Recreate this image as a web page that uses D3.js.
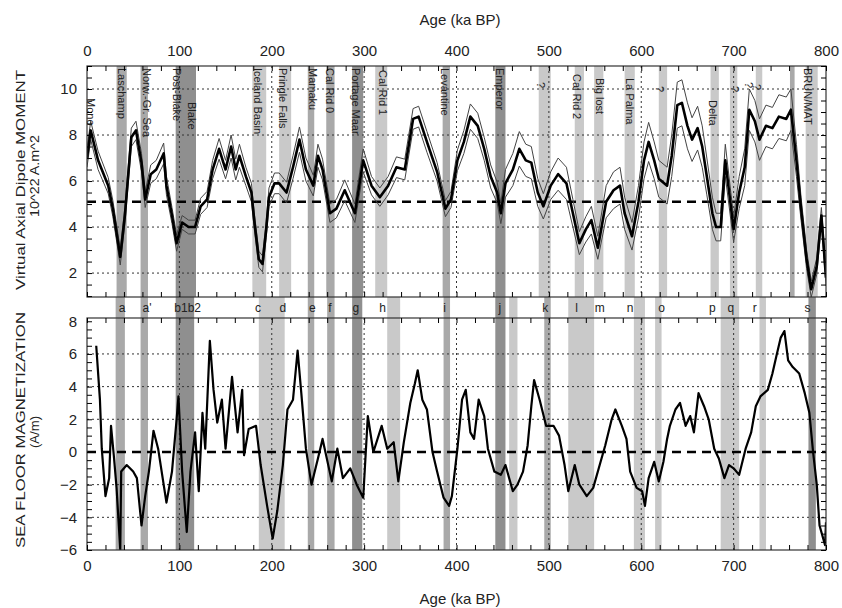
<!DOCTYPE html>
<html>
<head>
<meta charset="utf-8">
<title>VADM and sea floor magnetization</title>
<style>
  body { margin: 0; background: #fff; }
  svg text { font-family: "Liberation Sans Narrow", "Liberation Sans", Arial, sans-serif; fill: #222; }
</style>
</head>
<body>
<svg id="chart" width="842" height="608"></svg>
<script src="https://cdn.jsdelivr.net/npm/d3@7"></script>
<script>
// VADM stack (ka, 10^22 A.m^2) and its half-width
const vadmAge = [0,4,12,23,28,36,41,48,53,59,63,69,75,83,86,92,97,103,110,117,123,130,136,143,150,156,161,165,172,178,181,186,190,194,197,203,208,216,223,230,237,245,250,255,263,270,279,290,299,308,317,326,335,344,353,359,368,379,388,394,401,408,415,423,430,437,444,448,453,461,468,475,481,488,494,502,510,519,526,533,540,546,553,562,570,577,582,590,597,603,608,614,619,628,633,639,644,650,655,661,666,671,677,681,686,691,697,700,706,712,717,723,728,735,742,749,757,762,768,773,779,784,790,795,800];
const vadmVal = [7.0,8.2,6.9,5.8,4.8,2.7,4.5,7.9,8.2,6.8,5.2,6.3,6.5,7.2,5.8,4.5,3.3,4.2,4.0,4.0,4.9,5.2,6.5,7.4,6.5,7.5,6.5,7.1,6.2,5.5,4.3,2.6,2.4,3.9,5.3,5.9,5.9,5.5,6.6,7.8,6.5,5.8,7.1,6.5,4.6,4.8,5.6,4.6,6.9,5.8,5.3,5.8,6.6,6.5,8.7,8.8,7.7,6.4,4.8,5.2,6.9,7.7,8.8,8.4,7.4,6.2,5.5,4.6,5.9,6.5,7.4,6.9,6.8,5.5,4.9,5.8,6.3,5.9,4.6,3.3,3.9,4.3,3.1,5.1,5.6,5.8,4.6,3.6,5.1,6.9,7.7,6.9,6.1,5.8,7.1,9.3,9.4,8.4,7.8,8.3,7.5,6.2,4.6,4.0,4.0,6.9,4.9,3.9,5.5,6.6,9.1,8.6,7.8,8.4,8.3,8.8,8.7,9.1,6.9,4.8,2.6,1.3,2.3,4.5,1.8];
const vadmErr = [0.4,0.4,0.4,0.35,0.35,0.35,0.35,0.4,0.4,0.4,0.35,0.4,0.4,0.45,0.4,0.35,0.35,0.3,0.3,0.3,0.35,0.35,0.4,0.45,0.4,0.5,0.45,0.5,0.4,0.4,0.35,0.35,0.35,0.35,0.4,0.45,0.45,0.45,0.5,0.55,0.5,0.45,0.5,0.45,0.4,0.4,0.45,0.4,0.5,0.4,0.4,0.4,0.45,0.45,0.45,0.45,0.45,0.4,0.35,0.35,0.45,0.5,0.55,0.55,0.5,0.5,0.45,0.45,0.6,0.7,0.75,0.7,0.7,0.6,0.55,0.6,0.7,0.7,0.6,0.5,0.55,0.6,0.5,0.7,0.8,0.8,0.7,0.6,0.7,0.8,0.85,0.8,0.8,0.8,0.9,1.0,1.0,1.0,0.95,0.95,0.9,0.8,0.7,0.6,0.6,0.7,0.6,0.55,0.7,0.8,0.9,0.9,0.9,0.9,0.9,0.95,0.95,0.9,0.7,0.5,0.4,0.35,0.35,0.35,0.35];
const vadmRef = 5.1;

// sea floor magnetization (A/m)
const sfmAge = [10,14,16,20,24,26,29,32,36,37,43,50,54,59,63,67,72,77,86,92,97,99,103,108,112,117,121,125,128,133,137,141,146,150,157,163,168,170,175,183,188,195,201,206,212,217,223,228,232,237,243,250,255,265,271,277,285,292,299,304,310,319,325,332,337,343,350,355,358,363,368,374,379,386,392,395,401,406,410,415,419,424,430,434,441,448,453,461,466,472,477,481,484,490,497,505,511,517,521,528,533,541,548,555,561,568,572,579,584,588,595,601,604,608,614,619,624,628,631,637,642,648,653,657,662,668,673,679,684,690,695,700,706,713,719,724,729,737,742,746,751,755,759,764,771,777,782,786,790,793,799,800];
const sfmVal = [6.5,3.2,0.2,-2.7,-1.6,1.6,-0.2,-2.2,-6.0,-1.2,-0.8,-1.2,-1.6,-4.5,-2.7,-1.2,1.3,0.2,-3.1,-1.2,2.0,3.4,-1.2,-4.9,-1.2,1.2,-2.4,2.4,0.2,6.8,3.8,1.8,3.2,0.2,4.6,1.2,3.8,-0.2,1.4,1.6,-0.8,-3.3,-5.3,-3.6,-0.8,2.6,3.2,6.2,3.6,0.2,-2.0,-0.4,0.8,-1.8,0.2,-1.6,-1.0,-2.0,-2.8,2.2,0.0,1.6,0.2,0.6,-1.8,0.6,3.0,4.2,5.0,3.2,2.6,0.0,-1.2,-2.8,-3.3,-2.7,0.2,3.2,3.8,1.2,0.8,3.2,2.2,0.2,-1.2,-1.4,-0.8,-2.4,-2.0,-1.2,0.4,2.8,4.4,3.2,1.6,1.6,1.0,-0.8,-2.4,-0.8,-2.0,-2.7,-2.2,-0.8,0.4,2.0,2.6,1.6,0.8,-1.2,-2.2,-2.4,-3.3,-1.6,-0.6,-1.8,-0.6,0.8,1.6,2.6,3.0,1.6,2.2,1.2,3.6,2.8,2.0,0.2,-0.4,-1.6,-0.8,-1.0,-1.4,0.2,1.2,2.8,3.4,3.8,4.8,5.8,7.0,7.4,5.6,5.2,4.8,3.6,2.4,0.0,-2.0,-4.5,-5.7,-4.3];

// excursion windows [from, to, shade]
const topBands = [[32,43,"mid"],[58,66,"mid"],[96,118,"dark"],[179,194,"light"],[208,221,"light"],[239,246,"mid"],[259,268,"mid"],[287,299,"dark"],[312,325,"light"],[385,393,"mid"],[442,453,"dark"],[489,502,"light"],[528,538,"light"],[549,559,"light"],[582,593,"light"],[619,628,"light"],[675,684,"light"],[696,704,"light"],[724,731,"light"],[761,766,"mid"],[778,791,"light"]];
const botBands = [[31,41,"mid"],[58,66,"mid"],[96,116,"dark"],[186,214,"light"],[239,246,"mid"],[260,268,"mid"],[287,298,"dark"],[325,339,"light"],[386,393,"mid"],[442,453,"dark"],[457,466,"light"],[495,502,"mid"],[521,549,"light"],[592,604,"light"],[615,622,"light"],[686,706,"light"],[728,735,"light"],[781,789,"dark"]];

const excName = ["Mono","Laschamp","Norw.-Gr. Sea","Post-Blake","Blake","Iceland Basin","Pringle Falls","Mamaku","Cal Rid 0","Portage Maar","Cal Rid 1","Levantine","Emperor","?","Cal Rid 2","Big lost","La Palma","?","Delta","?","?","?","BRUN/MAT"];
const excAge  = [4,38,65,97,114,185,212,244,263,291,320,387,447,491,530,555,588,620,677,701,716,725,780];
const excTop  = [98,68,68,68,102,68,68,68,68,68,70,68,68,82,74,78,78,86,100,86,82,84,68];

const letters   = ["a","a'","b1b2","c","d","e","f","g","h","i","j","k","l","m","n","o","p","q","r","s"];
const letterAge = [38,65,109,185,212,244,263,291,320,387,447,496,530,555,588,622,677,697,723,780];

const ageTicks = d3.range(0, 801, 100);
const topTicks = [2,4,6,8,10];
const botTicks = [-6,-4,-2,0,2,4,6,8];

const svg = d3.select("#chart");
const x = d3.scaleLinear().domain([0, 800]).range([87, 826]);
const yT = d3.scaleLinear().domain([0.96, 11.0]).range([297, 66]);
const yB = d3.scaleLinear().domain([-6, 8.2]).range([550, 318]);
const shade = {dark: "#8f8f8f", mid: "#a9a9a9", light: "#c9c9c9"};

svg.append("defs").selectAll("clipPath")
  .data([["clipT", yT], ["clipB", yB]]).enter().append("clipPath")
  .attr("id", d => d[0])
  .append("rect")
  .attr("x", 87).attr("width", 739)
  .attr("y", d => d[1].range()[1]).attr("height", d => d[1].range()[0] - d[1].range()[1]);

// bands
svg.append("g").selectAll("rect").data(topBands).enter().append("rect")
  .attr("x", d => x(d[0])).attr("width", d => x(d[1]) - x(d[0]))
  .attr("y", 66).attr("height", 231)
  .attr("fill", d => shade[d[2]]);
svg.append("g").selectAll("rect").data(botBands).enter().append("rect")
  .attr("x", d => x(d[0])).attr("width", d => x(d[1]) - x(d[0]))
  .attr("y", 297).attr("height", 253)
  .attr("fill", d => shade[d[2]]);

// grids
function grid(y, vals, top, bottom) {
  const g = svg.append("g").attr("stroke", "#333").attr("stroke-width", 1).attr("stroke-dasharray", "2,3");
  g.selectAll("line.h").data(vals).enter().append("line")
    .attr("x1", 87).attr("x2", 826).attr("y1", d => y(d)).attr("y2", d => y(d));
  g.selectAll("line.v").data(ageTicks.slice(1, -1)).enter().append("line")
    .attr("y1", top).attr("y2", bottom).attr("x1", d => x(d)).attr("x2", d => x(d));
}
grid(yT, topTicks, 66, 297);
grid(yB, [-4,-2,2,4,6], 318, 550);

// reference lines
svg.append("line").attr("x1", 87).attr("x2", 826).attr("y1", yT(vadmRef)).attr("y2", yT(vadmRef))
  .attr("stroke", "#000").attr("stroke-width", 2.5).attr("stroke-dasharray", "9,6");
svg.append("line").attr("x1", 87).attr("x2", 826).attr("y1", yB(0)).attr("y2", yB(0))
  .attr("stroke", "#000").attr("stroke-width", 2.5).attr("stroke-dasharray", "9,6");

// excursion names
svg.append("g").selectAll("text").data(excName).enter().append("text")
  .attr("transform", (d, i) => `translate(${x(excAge[i])},${excTop[i]}) rotate(90)`)
  .attr("dy", "0.35em").attr("font-size", 11).text(d => d);

// letters between panels
svg.append("g").selectAll("text").data(letters).enter().append("text")
  .attr("x", (d, i) => x(letterAge[i])).attr("y", 312)
  .attr("text-anchor", "middle").attr("font-size", 12).text(d => d);

// VADM curves
const lineT = d3.line().x(d => x(d[0])).y(d => yT(d[1]));
const up = vadmAge.map((a, i) => [a, vadmVal[i] + vadmErr[i]]);
const lo = vadmAge.map((a, i) => [a, vadmVal[i] - vadmErr[i]]);
const gT = svg.append("g").attr("clip-path", "url(#clipT)");
[up, lo].forEach(s => gT.append("path").attr("d", lineT(s))
  .attr("fill", "none").attr("stroke", "#444").attr("stroke-width", 1));
gT.append("path").attr("d", lineT(vadmAge.map((a, i) => [a, vadmVal[i]])))
  .attr("fill", "none").attr("stroke", "#000").attr("stroke-width", 2.6).attr("stroke-linejoin", "round");

// sea floor curve
const lineB = d3.line().x(d => x(d[0])).y(d => yB(d[1]));
svg.append("g").attr("clip-path", "url(#clipB)").append("path")
  .attr("d", lineB(sfmAge.map((a, i) => [a, sfmVal[i]])))
  .attr("fill", "none").attr("stroke", "#000").attr("stroke-width", 2.2).attr("stroke-linejoin", "round");

// frames
[[66, 297], [318, 550]].forEach(r => svg.append("rect")
  .attr("x", 87).attr("y", r[0]).attr("width", 739).attr("height", r[1] - r[0])
  .attr("fill", "none").attr("stroke", "#333").attr("stroke-width", 1.2));

// minor ticks
const minor = d3.range(0, 801, 20);
function ticksX(yPos, dir) {
  svg.append("g").attr("transform", `translate(0,${yPos})`)
    .call(d3.axisBottom(x).tickValues(minor).tickSize(dir * 5).tickFormat(""))
    .call(g => g.select(".domain").remove());
}
ticksX(66, 1); ticksX(297, -1); ticksX(318, 1); ticksX(550, -1);
function ticksY(y, vals) {
  svg.append("g").attr("transform", "translate(87,0)")
    .call(d3.axisRight(y).tickValues(vals).tickSize(5).tickFormat(""))
    .call(g => g.select(".domain").remove());
  svg.append("g").attr("transform", "translate(826,0)")
    .call(d3.axisLeft(y).tickValues(vals).tickSize(5).tickFormat(""))
    .call(g => g.select(".domain").remove());
}
ticksY(yT, d3.range(1, 11.01, 0.5));
ticksY(yB, d3.range(-6, 8.01, 0.5));

// tick labels
function labels(axis, transform) {
  svg.append("g").attr("transform", transform)
    .call(axis.tickSize(0).tickPadding(10))
    .call(g => g.select(".domain").remove())
    .call(g => g.selectAll("text").attr("font-size", 15).attr("fill", "#222"));
}
labels(d3.axisTop(x).tickValues(ageTicks), "translate(0,66)");
labels(d3.axisBottom(x).tickValues(ageTicks), "translate(0,550)");
labels(d3.axisLeft(yT).tickValues(topTicks), "translate(87,0)");
labels(d3.axisLeft(yB).tickValues(botTicks), "translate(87,0)");

// titles
svg.append("text").attr("x", 460).attr("y", 25).attr("text-anchor", "middle").attr("font-size", 15).text("Age (ka BP)");
svg.append("text").attr("x", 460).attr("y", 604).attr("text-anchor", "middle").attr("font-size", 15).text("Age (ka BP)");
[["Virtual Axial Dipole MOMENT", 20, 180, 220], ["10^22 A.m^2", 34, 176, 82],
 ["SEA FLOOR MAGNETIZATION", 20, 430, 236], ["(A/m)", 34, 432, 32]].forEach(t =>
  svg.append("text").attr("transform", `translate(${t[1]},${t[2]}) rotate(-90)`)
    .attr("text-anchor", "middle").attr("dy", "0.35em").attr("font-size", 13)
    .attr("textLength", t[3]).attr("lengthAdjust", "spacingAndGlyphs").text(t[0]));
</script>
</body>
</html>
